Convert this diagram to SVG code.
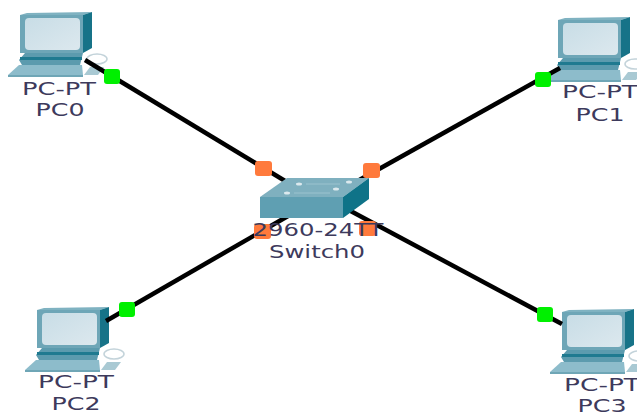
<svg xmlns="http://www.w3.org/2000/svg" width="637" height="412" viewBox="0 0 637 412">
<style>
text{font-family:"DejaVu Sans","Liberation Sans",sans-serif;font-size:18px;fill:#3d3a5c;text-anchor:middle}
.w{stroke:#000;stroke-width:4.5;fill:none}
.g{fill:#00f000}
.o{fill:#ff7a3c}
</style>
<defs>
<linearGradient id="scr" x1="0" y1="0" x2="1" y2="1"><stop offset="0" stop-color="#c8dde6"/><stop offset="1" stop-color="#dce8ee"/></linearGradient>
<g id="pc">
<ellipse cx="97" cy="59" rx="10" ry="5" fill="none" stroke="#c3d3da" stroke-width="1.5"/>
<polygon points="84,75 90,67 104,67 98,75" fill="#a9c9d3"/>
<polygon points="8,75 19,65 82,65 83,75" fill="#8dbccb"/>
<polygon points="8,75 83,75 83,77 8,77" fill="#6fa6b6"/>
<polygon points="25,53 83,53 80,65 22,65 19,60" fill="#5c9bae"/>
<rect x="20" y="57" width="62" height="3" fill="#1f7a90"/>
<polygon points="20,15 27,13 92,12 83,15" fill="#7fb2c1"/>
<polygon points="83,15 92,12 92,48 83,53" fill="#177388"/>
<rect x="20" y="15" width="63" height="38" fill="#6ea6b7"/>
<rect x="25" y="18" width="55" height="32" rx="4" fill="url(#scr)"/>
</g>
</defs>
<rect width="637" height="412" fill="#fff"/>
<g id="pc0"><use href="#pc"/><text x="59" y="95" textLength="74" lengthAdjust="spacingAndGlyphs">PC-PT</text><text x="60" y="116" textLength="49" lengthAdjust="spacingAndGlyphs">PC0</text></g>
<g id="pc1"><use href="#pc" x="538" y="5"/><text x="600" y="98" textLength="76" lengthAdjust="spacingAndGlyphs">PC-PT</text><text x="600" y="121" textLength="49" lengthAdjust="spacingAndGlyphs">PC1</text></g>
<g id="pc2"><use href="#pc" x="17" y="295"/><text x="76" y="388" textLength="76" lengthAdjust="spacingAndGlyphs">PC-PT</text><text x="76" y="410" textLength="49" lengthAdjust="spacingAndGlyphs">PC2</text></g>
<g id="pc3"><use href="#pc" x="542" y="297"/><text x="602" y="391" textLength="76" lengthAdjust="spacingAndGlyphs">PC-PT</text><text x="602" y="412" textLength="49" lengthAdjust="spacingAndGlyphs">PC3</text></g>
<g id="connectors">
<line class="w" x1="85" y1="60" x2="300" y2="190"/>
<line class="w" x1="560" y1="68" x2="345" y2="188"/>
<line class="w" x1="106" y1="321" x2="295" y2="212"/>
<line class="w" x1="562" y1="324" x2="345" y2="208"/>
<rect class="g" x="104" y="69" width="16" height="15" rx="3"/>
<rect class="g" x="535" y="72" width="16" height="15" rx="3"/>
<rect class="g" x="119" y="302" width="16" height="15" rx="3"/>
<rect class="g" x="537" y="307" width="16" height="15" rx="3"/>
<rect class="o" x="255" y="161" width="17" height="15" rx="3"/>
<rect class="o" x="363" y="163" width="17" height="15" rx="3"/>
<rect class="o" x="254" y="224" width="17" height="15" rx="3"/>
<rect class="o" x="359" y="221" width="17" height="15" rx="3"/>
</g>
<g id="switch0">
<polygon points="260,197 287,178 369,178 343,197" fill="#7fb0bf"/>
<polygon points="260,197 343,197 343,218 260,218" fill="#5f9fb2"/>
<polygon points="343,197 369,178 369,199 343,218" fill="#0f7388"/>
<g fill="#dce9ee"><ellipse cx="299" cy="184" rx="3" ry="1.5"/><ellipse cx="349" cy="182" rx="3" ry="1.5"/><ellipse cx="287" cy="193" rx="3" ry="1.5"/><ellipse cx="336" cy="189" rx="3" ry="1.5"/></g>
<path d="M306 184H340M294 193H330" stroke="#9cc3cf" stroke-width="1" fill="none"/>
<text x="318" y="236" textLength="131" lengthAdjust="spacingAndGlyphs">2960-24TT</text>
<text x="317" y="258" textLength="96" lengthAdjust="spacingAndGlyphs">Switch0</text>
</g>
</svg>
